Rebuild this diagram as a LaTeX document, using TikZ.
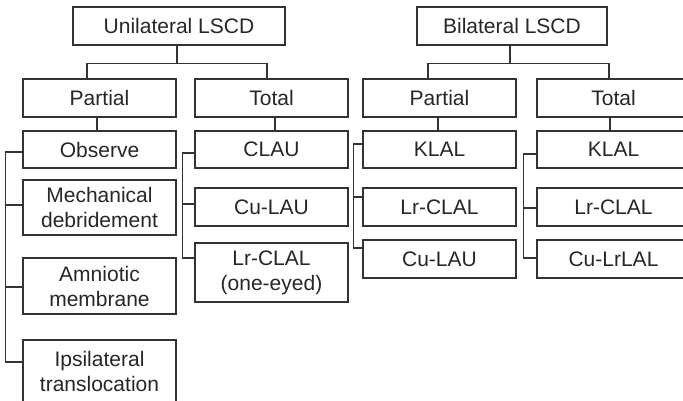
\documentclass[tikz,border=0pt]{standalone}
\usepackage{fontspec}
\setmainfont{Liberation Sans}
\begin{document}
\begin{tikzpicture}[x=1pt,y=-1pt,
  box/.style={draw=black!80,line width=1.3pt,text=black!85,minimum width=153pt,
    align=center,inner sep=0pt,font=\fontsize{21}{25}\selectfont},
  conn/.style={draw=black!80,line width=1.3pt}]
\useasboundingbox (0,0) rectangle (683,400);
% top level
\node[box,minimum width=212pt,minimum height=38pt] (UL) at (179,26) {Unilateral LSCD};
\node[box,minimum width=190pt,minimum height=38pt] (BL) at (512,26) {Bilateral LSCD};
% second level
\node[box,minimum height=38pt] (LP) at (99.5,98) {Partial};
\node[box,minimum height=38pt] (LT) at (271.5,98) {Total};
\node[box,minimum height=38pt] (BP) at (439.5,98) {Partial};
\node[box,minimum height=38pt] (BT) at (613.5,98) {Total};
% unilateral partial children
\node[box,minimum height=37pt] (Obs) at (99.5,149.5) {Observe};
\node[box,minimum height=55pt] (Mech) at (99.5,207.5) {Mechanical\\debridement};
\node[box,minimum height=56pt] (Amn) at (99.5,286) {Amniotic\\membrane};
\node[box,minimum height=62pt] (Ips) at (99.5,371) {Ipsilateral\\translocation};
% unilateral total children
\node[box,minimum height=37pt] (CLAU) at (271.5,149.5) {CLAU};
\node[box,minimum height=38pt] (CuLAU) at (271.5,207) {Cu-LAU};
\node[box,minimum height=59pt] (LrOne) at (271.5,272.5) {Lr-CLAL\\(one-eyed)};
% bilateral partial children
\node[box,minimum height=37pt] (KLALa) at (439.5,149.5) {KLAL};
\node[box,minimum height=38pt] (LrCLALa) at (439.5,207) {Lr-CLAL};
\node[box,minimum height=38pt] (CuLAUb) at (439.5,259) {Cu-LAU};
% bilateral total children
\node[box,minimum height=37pt] (KLALb) at (613.5,149.5) {KLAL};
\node[box,minimum height=38pt] (LrCLALb) at (613.5,207) {Lr-CLAL};
\node[box,minimum height=38pt] (CuLrLAL) at (613.5,259) {Cu-LrLAL};
% top-level forks
\draw[conn] ([xshift=-2pt]UL.south) -- ++(0,18) coordinate (u1);
\draw[conn] ([xshift=-12.5pt]LP.north) |- (u1) -| ([xshift=-4.5pt]LT.north);
\draw[conn] ([xshift=-2pt]BL.south) -- ++(0,18) coordinate (b1);
\draw[conn] ([xshift=-11.5pt]BP.north) |- (b1) -| ([xshift=-4.5pt]BT.north);
% stems
\draw[conn] ([xshift=-2.5pt]LP.south) -- ([xshift=-2.5pt]Obs.north);
\draw[conn] ([xshift=3.5pt]LT.south) -- ([xshift=3.5pt]CLAU.north);
\draw[conn] ([xshift=-1.5pt]BP.south) -- ([xshift=-1.5pt]KLALa.north);
\draw[conn] ([xshift=-3.5pt]BT.south) -- ([xshift=-3.5pt]KLALb.north);
% unilateral partial spine
\draw[conn] ([yshift=-2.5pt]Obs.west) -- ++(-17,0) coordinate (s1) |- ([yshift=9pt]Ips.west);
\draw[conn] (s1) |- ([yshift=2.5pt]Mech.west);
\draw[conn] (s1) |- ([yshift=-1pt]Amn.west);
% unilateral total spine
\draw[conn] ([yshift=-3.5pt]CLAU.west) -- ++(-12,0) coordinate (s2) |- ([yshift=14.5pt]LrOne.west);
\draw[conn] (s2) |- ([yshift=3pt]CuLAU.west);
% bilateral partial spine
\draw[conn] ([yshift=5.5pt]KLALa.west) -- ++(-9,0) coordinate (s3) |- ([yshift=11pt]CuLAUb.west);
\draw[conn] (s3) |- ([yshift=10pt]LrCLALa.west);
% bilateral total spine
\draw[conn] ([yshift=-4.5pt]KLALb.west) -- ++(-13,0) coordinate (s4) |- ([yshift=1pt]CuLrLAL.west);
\draw[conn] (s4) |- ([yshift=-1pt]LrCLALb.west);
\end{tikzpicture}
\end{document}
